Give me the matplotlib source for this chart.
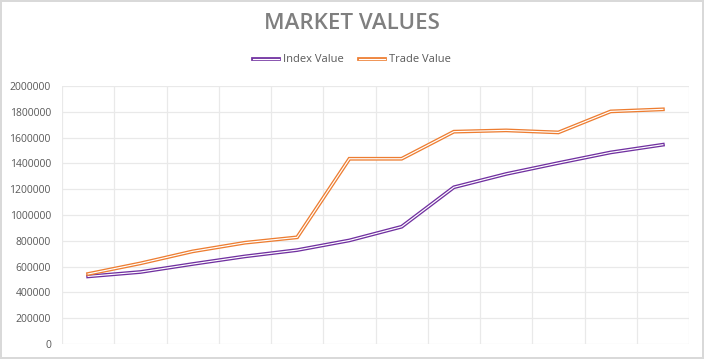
import matplotlib.pyplot as plt
import matplotlib.patheffects as pe
from matplotlib.ticker import FuncFormatter, MultipleLocator

# data (12 periods, no x labels shown)
periods = list(range(12))
index_value = [524000, 558000, 620000, 679000, 728000, 803000,
               909000, 1215000, 1318000, 1403000, 1485000, 1545000]
trade_value = [543000, 625000, 718000, 785000, 827000, 1436000,
               1436000, 1646000, 1656000, 1640000, 1803000, 1819000]

purple = "#7030A0"
orange = "#ED7D31"

plt.rcParams['font.family'] = ['Open Sans', 'DejaVu Sans']

fig = plt.figure(figsize=(7.04, 3.59), dpi=100, linewidth=1.5, edgecolor="#d9d9d9")
ax = fig.add_axes([62 / 704, 1 - 344 / 359, 627 / 704, 258 / 359])


def double_line(color):
    """Excel-like compound 'double' line: coloured stroke with white core"""
    return [pe.Stroke(linewidth=2.7, foreground=color),
            pe.Stroke(linewidth=0.85, foreground="white")]


ax.plot(periods, index_value, color=purple, lw=2.7, label="Index Value",
        path_effects=double_line(purple), solid_joinstyle="miter")
ax.plot(periods, trade_value, color=orange, lw=2.7, label="Trade Value",
        path_effects=double_line(orange), solid_joinstyle="miter")

# axes setup
ax.set_xlim(-0.5, 11.5)
ax.set_ylim(0, 2000000)
ax.yaxis.set_major_locator(MultipleLocator(200000))
ax.yaxis.set_major_formatter(FuncFormatter(lambda v, p: f"{int(v)}"))
ax.set_xticks([])
ax.set_xticks([i - 0.5 for i in range(13)], minor=True)
ax.tick_params(axis="x", which="both", length=0, labelbottom=False)
ax.tick_params(axis="y", length=0, pad=8, labelsize=7.5, labelcolor="#595959")

ax.grid(axis="y", which="major", color="#e9e9e9", lw=0.9)
ax.grid(axis="x", which="minor", color="#e9e9e9", lw=0.9)
ax.set_axisbelow(True)
for s in ax.spines.values():
    s.set_visible(False)

# title and legend
fig.text(0.5, 1 - 23.5 / 359, "MARKET VALUES", ha="center", va="center",
         fontsize=16, fontweight="semibold", color="#7f7f7f")
fig.legend(loc="center", bbox_to_anchor=(0.5, 1 - 60 / 359), ncol=2,
           frameon=False, fontsize=8, labelcolor="#595959",
           handlelength=2.3, handletextpad=0.35, columnspacing=1.4)

fig.savefig("out.png", dpi=100)
